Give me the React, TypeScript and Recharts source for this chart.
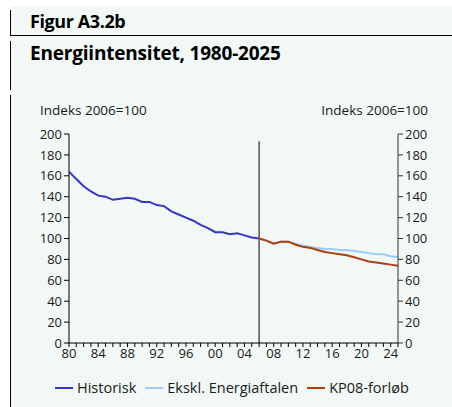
import { LineChart, Line, XAxis, YAxis, ReferenceLine } from "recharts";

const years = Array.from({ length: 46 }, (_, i) => 1980 + i);

// 1980-2006
const historisk = [
  164, 157, 150, 145, 141, 140, 137, 138, 139, 138, 135, 135, 132, 131,
  126, 123, 120, 117, 113, 110, 106, 106, 104, 105, 103, 101, 100,
];

// 2006-2025
const ekskl = [
  100, 98, 95, 97, 97, 95, 93, 92, 91, 90, 90, 89, 89, 88, 87, 86, 85, 85, 83, 82,
];
const kp08 = [
  100, 98, 95, 97, 97, 94, 92, 91, 89, 87, 86, 85, 84, 82, 80, 78, 77, 76, 75, 74,
];

const yTicks = [0, 20, 40, 60, 80, 100, 120, 140, 160, 180, 200];
const forecastStart = 2006;
const dividerTop = 193;

const data = years.map((year, i) => ({
  year,
  historisk: i < historisk.length ? historisk[i] : null,
  ekskl: year >= forecastStart ? ekskl[year - forecastStart] : null,
  kp08: year >= forecastStart ? kp08[year - forecastStart] : null,
}));

const font = "'Open Sans', sans-serif";
const bg = "#f1f8f5";

const legendItems = [
  { label: "Historisk", color: "#3535cf" },
  { label: "Ekskl. Energiaftalen", color: "#9fcdfb" },
  { label: "KP08-forløb", color: "#b23c0c" },
];

export default function App() {
  return (
    <div style={{ position: "absolute", left: 0, top: 0, width: 452, height: 407, background: "#fff", overflow: "hidden" }}>
      <div style={{ position: "absolute", left: 10, top: 6, width: 442, height: 401, background: bg }} />
      {/* frame lines */}
      <div style={{ position: "absolute", left: 10, top: 10, width: 1, height: 26, background: "#000" }} />
      <div style={{ position: "absolute", left: 10, top: 35, width: 442, height: 1, background: "#000" }} />
      <div style={{ position: "absolute", left: 10, top: 41, width: 1, height: 49, background: "#000" }} />
      <div style={{ position: "absolute", left: 10, top: 95, width: 1, height: 312, background: "#000" }} />
      <div style={{ position: "absolute", left: 30, top: 9, fontFamily: font, fontWeight: 700, fontSize: 18, color: "#000", letterSpacing: -0.4 }}>
        Figur A3.2b
      </div>
      <div style={{ position: "absolute", left: 30, top: 40, fontFamily: font, fontWeight: 700, fontSize: 19, color: "#000", letterSpacing: -0.2 }}>
        Energiintensitet, 1980-2025
      </div>
      <div style={{ position: "absolute", left: 40, top: 101, fontFamily: font, fontSize: 13.5, color: "#1a1a1a" }}>
        Indeks 2006=100
      </div>
      <div style={{ position: "absolute", right: 24, top: 101, fontFamily: font, fontSize: 13.5, color: "#1a1a1a" }}>
        Indeks 2006=100
      </div>
      <div style={{ position: "absolute", left: 0, top: 0 }}>
        <LineChart width={452} height={407} data={data} margin={{ top: 134, right: 14, left: 29, bottom: 34 }}>
          <XAxis
            dataKey="year"
            type="number"
            domain={[1980, 2025]}
            ticks={years}
            interval={0}
            tickFormatter={(v: number) => (v % 4 === 0 ? String(v).slice(2) : "")}
            axisLine={{ stroke: "#000" }}
            tickLine={{ stroke: "#000" }}
            tickSize={4}
            tick={{ fill: "#1a1a1a", fontSize: 13, fontFamily: font }}
            height={30}
          />
          <YAxis
            yAxisId="left"
            domain={[0, 200]}
            ticks={yTicks}
            interval={0}
            width={40}
            axisLine={{ stroke: "#000" }}
            tickLine={{ stroke: "#000" }}
            tickSize={5}
            tick={{ fill: "#1a1a1a", fontSize: 13, fontFamily: font }}
          />
          <YAxis
            yAxisId="right"
            orientation="right"
            domain={[0, 200]}
            ticks={yTicks}
            interval={0}
            width={40}
            axisLine={{ stroke: "#333" }}
            tickLine={{ stroke: "#333" }}
            tickSize={5}
            tick={{ fill: "#1a1a1a", fontSize: 13, fontFamily: font }}
          />
          <ReferenceLine
            yAxisId="left"
            segment={[
              { x: forecastStart, y: 0 },
              { x: forecastStart, y: dividerTop },
            ]}
            stroke="#000"
            strokeWidth={1}
          />
          <Line yAxisId="left" dataKey="historisk" stroke="#3535cf" strokeWidth={2} dot={false} activeDot={false} isAnimationActive={false} />
          <Line yAxisId="right" dataKey="ekskl" stroke="#9fcdfb" strokeWidth={2} dot={false} activeDot={false} isAnimationActive={false} />
          <Line yAxisId="right" dataKey="kp08" stroke="#b23c0c" strokeWidth={2} dot={false} activeDot={false} isAnimationActive={false} />
        </LineChart>
      </div>
      <div style={{ position: "absolute", left: 55, top: 378, display: "flex", alignItems: "center", fontFamily: font, fontSize: 14.5, color: "#1a1a1a" }}>
        {legendItems.map((it) => (
          <div key={it.label} style={{ display: "flex", alignItems: "center", marginRight: 9 }}>
            <div style={{ width: 18, height: 2, background: it.color, marginRight: 4 }} />
            <span>{it.label}</span>
          </div>
        ))}
      </div>
    </div>
  );
}
